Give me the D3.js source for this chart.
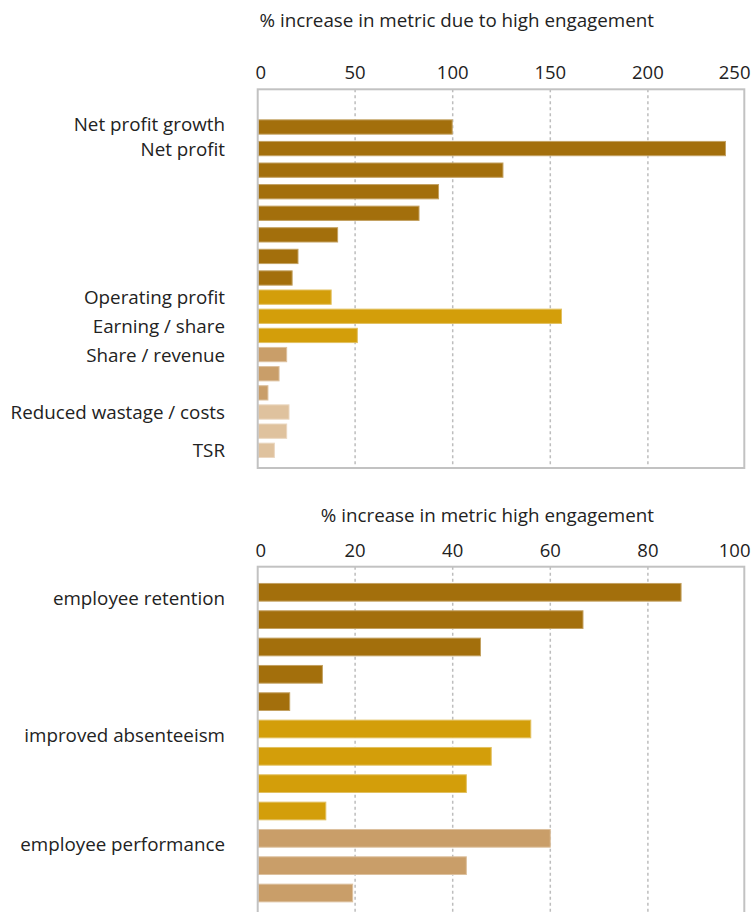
<!DOCTYPE html>
<html>
<head>
<meta charset="utf-8">
<script src="https://cdn.jsdelivr.net/npm/d3@7"></script>
<style>
  body { margin: 0; background: #fff; }
  text { font-family: "Open Sans", "Noto Sans", sans-serif; fill: #222; }
</style>
</head>
<body>
<svg id="chart" width="752" height="912"></svg>
<script>
// business metrics (top panel)
var financeValues = [100, 240, 126, 93, 83, 41.3, 21, 18, 38, 156, 51.4, 15.2, 11.3, 5.6, 16.4, 15.2, 8.9];
var financeGroups = [0, 0, 0, 0, 0, 0, 0, 0, 1, 1, 1, 2, 2, 2, 3, 3, 3];
var financeLabels = ["Net profit growth", "Net profit", "Operating profit", "Earning / share",
    "Share / revenue", "Reduced wastage / costs", "TSR"];
// which bar (by index) each label sits against
var financeLabelAt = [-0.15, 1, 8, 9.5, 11, 14, 16];
var financeTicks = [0, 50, 100, 150, 200, 250];

// people metrics (bottom panel)
var peopleValues = [86.9, 66.8, 45.8, 13.4, 6.7, 56.1, 48, 42.9, 14.1, 60.1, 42.9, 19.6];
var peopleGroups = [0, 0, 0, 0, 0, 1, 1, 1, 1, 2, 2, 2];
var peopleLabels = ["employee retention", "improved absenteeism", "employee performance"];
var peopleLabelAt = [0, 5, 9];
var peopleTicks = [0, 20, 40, 60, 80, 100];

var groupColors = ["#a36f0c", "#d39e0a", "#c99e69", "#dfc29e"];

var svg = d3.select("#chart");

function drawPanel(p) {
    var g = svg.append("g");

    var x = d3.scaleLinear()
        .domain([0, d3.max(p.ticks)])
        .range([257, 745]);

    //bar centres - leading group may have its own pitch
    var n = p.values.length;
    var y = d3.scaleLinear().domain(p.yDomain(n)).range(p.yRange);

    g.append("text")
        .attr("x", 654)
        .attr("y", p.titleY)
        .attr("text-anchor", "end")
        .style("font-size", "18.8px")
        .text(p.title);

    //tick labels, end ones kept inside the page
    var last = p.ticks.length - 1;
    var axis = g.append("g")
        .attr("transform", "translate(0," + p.tickY + ")")
        .call(d3.axisTop(x).tickValues(p.ticks).tickSize(0).tickPadding(0));
    axis.select(".domain").remove();
    axis.selectAll("text")
        .attr("fill", "#222")
        .style("font-size", "18.5px")
        .style("font-family", '"Open Sans", "Noto Sans", sans-serif')
        .attr("text-anchor", function(d, i) { return i === 0 ? "start" : (i === last ? "end" : "middle"); })
        .attr("x", function(d, i) { return i === 0 ? -2 : (i === last ? 750 - x(d) : 0); });

    //dashed grid
    var grid = g.append("g")
        .attr("transform", "translate(0," + p.frameTop + ")")
        .call(d3.axisBottom(x)
            .tickValues(p.ticks.slice(1, -1))
            .tickSize(p.frameBottom - p.frameTop)
            .tickFormat(""));
    grid.select(".domain").remove();
    grid.selectAll("line")
        .attr("stroke", "#bdbdbd")
        .attr("stroke-width", 1.5)
        .attr("stroke-dasharray", "3,3");

    //bars
    g.selectAll(".bar")
        .data(p.values)
        .enter()
        .append("rect")
        .attr("class", "bar")
        .attr("x", x(0) + 1.5)
        .attr("y", function(d, i) { return y(i) - p.barH / 2; })
        .attr("width", function(d) { return x(d) - x(0) - 1.5; })
        .attr("height", p.barH)
        .attr("fill", function(d, i) { return groupColors[p.groups[i]]; })
        .attr("stroke", function(d, i) { return d3.interpolateRgb(groupColors[p.groups[i]], "#fff")(0.35); })
        .attr("stroke-width", 1);

    //category labels
    g.selectAll(".label")
        .data(p.labels)
        .enter()
        .append("text")
        .attr("class", "label")
        .attr("x", 225)
        .attr("y", function(d, i) { return y(p.labelAt[i]) + p.labelShift; })
        .attr("dy", "0.35em")
        .attr("text-anchor", "end")
        .style("font-size", "18.8px")
        .text(function(d) { return d; });

    //frame
    g.append("rect")
        .attr("x", 257.7)
        .attr("y", p.frameTop)
        .attr("width", 744.3 - 257.7)
        .attr("height", p.frameBottom - p.frameTop)
        .attr("fill", "none")
        .attr("stroke", "#c2c2c2")
        .attr("stroke-width", 2);
}

var leadCount = financeGroups.filter(function(d) { return d === 0; }).length;

drawPanel({
    title: "% increase in metric due to high engagement",
    values: financeValues, groups: financeGroups,
    labels: financeLabels, labelAt: financeLabelAt, ticks: financeTicks,
    titleY: 27, tickY: 78.5, frameTop: 89.3, frameBottom: 468,
    yDomain: function(n) { return [0, leadCount - 1, n - 1]; },
    yRange: [127, 278, 450.3],
    barH: 14.3, labelShift: 0.5
});

drawPanel({
    title: "% increase in metric high engagement",
    values: peopleValues, groups: peopleGroups,
    labels: peopleLabels, labelAt: peopleLabelAt, ticks: peopleTicks,
    titleY: 522.3, tickY: 557, frameTop: 566.7, frameBottom: 925,
    yDomain: function(n) { return [0, n - 1]; },
    yRange: [592.3, 893],
    barH: 17.7, labelShift: 6.5
});
</script>
</body>
</html>
